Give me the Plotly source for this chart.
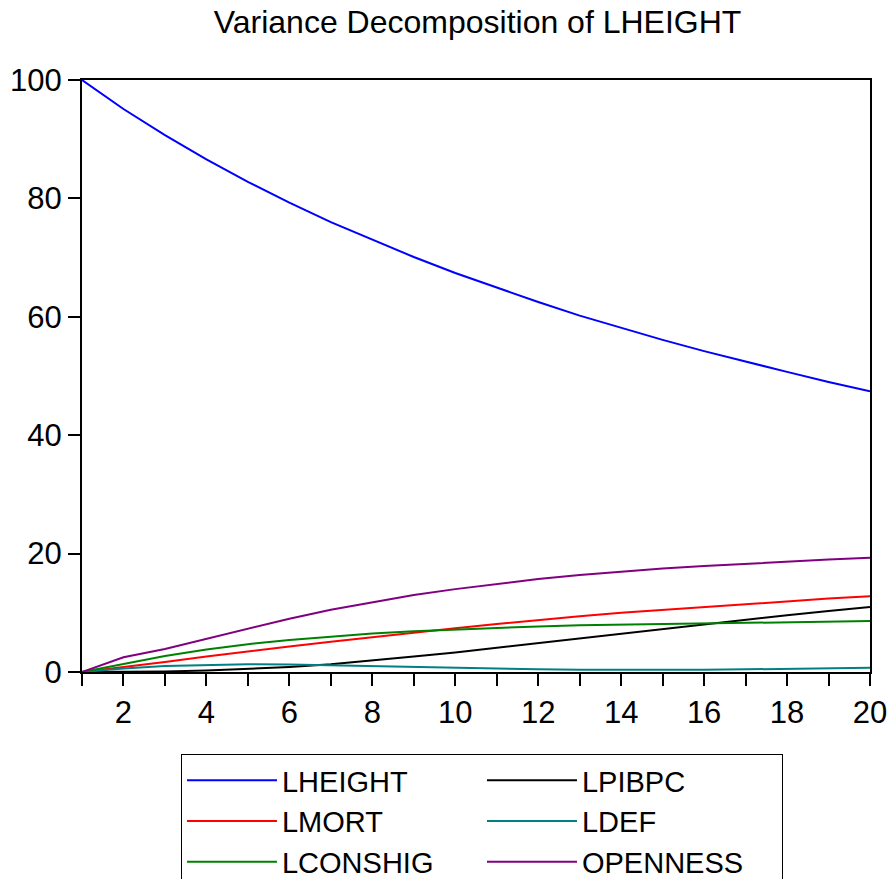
import plotly.graph_objects as go

periods = list(range(1, 21))
lheight = [100, 95.1, 90.7, 86.6, 82.8, 79.3, 76.0, 73.0, 70.1, 67.4, 64.9, 62.5, 60.2, 58.1, 56.1, 54.2, 52.4, 50.7, 49.0, 47.4]
lpibpc = [0, 0.02, 0.1, 0.25, 0.5, 0.85, 1.3, 1.9, 2.6, 3.3, 4.1, 4.9, 5.7, 6.5, 7.3, 8.1, 8.8, 9.6, 10.3, 11.0]
lmort = [0, 0.8, 1.7, 2.6, 3.5, 4.3, 5.1, 5.9, 6.7, 7.4, 8.1, 8.8, 9.4, 10.0, 10.5, 11.0, 11.5, 11.9, 12.4, 12.8]
ldef = [0, 0.6, 1.0, 1.2, 1.3, 1.25, 1.1, 0.95, 0.8, 0.65, 0.55, 0.45, 0.4, 0.38, 0.38, 0.4, 0.45, 0.5, 0.6, 0.7]
lconshig = [0, 1.4, 2.7, 3.8, 4.7, 5.4, 6.0, 6.5, 6.9, 7.2, 7.5, 7.7, 7.9, 8.0, 8.1, 8.2, 8.3, 8.4, 8.5, 8.6]
openness = [0, 2.5, 3.9, 5.6, 7.4, 9.0, 10.5, 11.8, 13.0, 14.0, 14.9, 15.7, 16.4, 17.0, 17.5, 17.9, 18.3, 18.7, 19.0, 19.3]

x_tickvals = periods
x_ticktext = [str(p) if p % 2 == 0 else "" for p in periods]
y_tickvals = [0, 20, 40, 60, 80, 100]

series = [
    ("LHEIGHT", lheight, "#0000FF"),
    ("LPIBPC", lpibpc, "#000000"),
    ("LMORT", lmort, "#FF0000"),
    ("LDEF", ldef, "#008080"),
    ("LCONSHIG", lconshig, "#008000"),
    ("OPENNESS", openness, "#800080"),
]

FONT = "Liberation Sans, Arial, sans-serif"

fig = go.Figure()
for name, vals, color in series:
    fig.add_trace(go.Scatter(x=periods, y=vals, mode="lines", name=name,
                             line=dict(color=color, width=2)))

fig.update_layout(
    width=891, height=879,
    paper_bgcolor="white", plot_bgcolor="white",
    margin=dict(l=82, r=21, t=80, b=207, autoexpand=False),
    font=dict(family=FONT, size=31, color="black"),
    title=dict(text="Variance Decomposition of LHEIGHT", x=0.536, xanchor="center",
               y=0.975, yanchor="middle", yref="container",
               font=dict(family=FONT, size=32, color="black")),
    showlegend=True,
    legend=dict(orientation="h", x=0.1256, xanchor="left", y=-0.1385, yanchor="top",
                bgcolor="white", bordercolor="black", borderwidth=1,
                entrywidth=195, entrywidthmode="pixels", itemwidth=90,
                font=dict(family=FONT, size=29, color="black"),
                traceorder="normal", tracegroupgap=0),
    xaxis=dict(range=[1, 20], tickmode="array", tickvals=x_tickvals, ticktext=x_ticktext,
               ticks="outside", ticklen=12, tickwidth=2, tickcolor="black",
               showline=True, linecolor="black", linewidth=2, mirror=True,
               showgrid=False, zeroline=False, tickfont=dict(size=31),
               ticklabeloverflow="allow"),
    yaxis=dict(range=[0, 100], tickmode="array", tickvals=y_tickvals,
               ticks="outside", ticklen=12, tickwidth=2, tickcolor="black",
               showline=True, linecolor="black", linewidth=2, mirror=True,
               showgrid=False, zeroline=False, tickfont=dict(size=31)),
)

# remove the default 8px page margin so the figure fills the window exactly
fig.write_html("out.html",
               config={"displayModeBar": False},
               post_script="document.body.style.margin='0';document.body.style.overflow='hidden';")
